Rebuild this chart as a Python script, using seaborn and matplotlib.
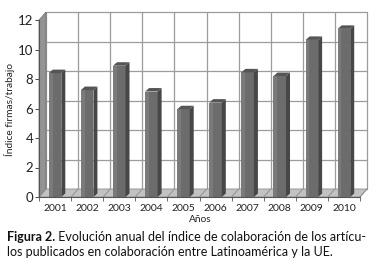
import numpy as np
import pandas as pd
import matplotlib
matplotlib.use("Agg")
import matplotlib.pyplot as plt
from matplotlib.patches import Polygon, Rectangle
import seaborn as sns

# data
years = ["2001", "2002", "2003", "2004", "2005", "2006", "2007", "2008", "2009", "2010"]
indice = [8.4, 7.25, 8.9, 7.15, 5.95, 6.4, 8.45, 8.2, 10.65, 11.4]
yticks = [0, 2, 4, 6, 8, 10, 12]

ylabel = "Índice firmas/trabajo"
xlabel = "Años"
cap_bold = "Figura 2."
cap_line1 = " Evolución anual del índice de colaboración de los artícu-"
cap_line2 = "los publicados en colaboración entre Latinoamérica y la UE."

df = pd.DataFrame({"anio": years, "indice": indice})

sns.set_style("white")
plt.rcParams["font.family"] = ["Lato", "DejaVu Sans"]

W, H = 379, 267
fig = plt.figure(figsize=(W / 100, H / 100), dpi=100)
ax = fig.add_axes([39 / W, 70 / H, 321 / W, 177 / H])
ax.set_facecolor("none")

n = len(years)
x0, x1 = -0.5, n - 0.5
ymax = 12
# depth of the fake 3d box, in data units
dx, dy = 7 / 32.1, 8 / 14.75
# depth of each bar
sx, sy = 4 / 32.1, 3.5 / 14.75
grid_c = "#9c9c9c"

# back wall
ax.add_patch(Rectangle((x0 + dx, dy), x1 - x0, ymax, facecolor="white",
                       edgecolor="none", zorder=0, clip_on=False))
for v in yticks:
    ax.plot([x0 + dx, x1 + dx], [v + dy, v + dy], color=grid_c, lw=0.9,
            zorder=0.5, clip_on=False)
for b in np.arange(x0, x1 + 0.01, 1.0):
    ax.plot([b + dx, b + dx], [dy, ymax + dy], color=grid_c, lw=0.9,
            zorder=0.5, clip_on=False)

# left wall
ax.add_patch(Polygon([(x0, 0), (x0 + dx, dy), (x0 + dx, ymax + dy), (x0, ymax)],
                     closed=True, facecolor="#939393", edgecolor="#6a6a6a",
                     lw=0.5, zorder=1, clip_on=False))
# floor
ax.add_patch(Polygon([(x0, 0), (x1, 0), (x1 + dx, dy), (x0 + dx, dy)],
                     closed=True, facecolor="#c2c2c2", edgecolor="#8a8a8a",
                     lw=0.5, zorder=1, clip_on=False))
for b in np.arange(x0, x1 + 0.01, 1.0):
    ax.plot([b, b + dx], [0, dy], color="#8a8a8a", lw=0.6, zorder=1.1,
            clip_on=False)

sns.barplot(data=df, x="anio", y="indice", color="#6c6c6c", saturation=1,
            width=0.39, ax=ax, zorder=2, edgecolor="none")

for p in ax.patches:
    if not isinstance(p, Rectangle) or p.get_zorder() != 2:
        continue
    xl = p.get_x()
    w = p.get_width()
    h = p.get_height()
    xr = xl + w
    ax.add_patch(Polygon([(xr, 0), (xr + sx, sy), (xr + sx, h + sy), (xr, h)],
                         closed=True, facecolor="#474747", edgecolor="none",
                         zorder=2.1, clip_on=False))
    ax.add_patch(Polygon([(xl, h), (xr, h), (xr + sx, h + sy), (xl + sx, h + sy)],
                         closed=True, facecolor="#555555", edgecolor="none",
                         zorder=2.1, clip_on=False))
    # light strip on the left of the front face
    ax.add_patch(Rectangle((xl, 0), w * 0.3, h, facecolor="#7a7a7a",
                           edgecolor="none", zorder=2.05, clip_on=False))

ax.set_xlim(x0, x1)
ax.set_ylim(0, ymax)
ax.set_yticks(yticks)
ax.set_xticks(range(n))
ax.set_xticklabels(years)
ax.set_xticks(np.arange(x0, x1 + 0.01, 1.0), minor=True)
ax.set_xlabel("")
ax.set_ylabel("")
ax.tick_params(axis="y", left=True, length=3, width=0.7, color="#444444",
               labelsize=9.5, pad=1, labelcolor="#222222")
ax.tick_params(axis="x", which="major", bottom=True, length=0, labelsize=7.5,
               pad=5, labelcolor="#222222")
ax.tick_params(axis="x", which="minor", bottom=True, length=3, width=0.6,
               color="#555555")
for s in ["top", "right"]:
    ax.spines[s].set_visible(False)
for s in ["left", "bottom"]:
    ax.spines[s].set_color("#555555")
    ax.spines[s].set_linewidth(0.8)
    ax.spines[s].set_zorder(3)

fig.text(10 / W, 1 - 110 / H, ylabel, rotation=90, ha="center", va="center",
         fontsize=7.3, color="#222222")
fig.text(200 / W, 1 - 219 / H, xlabel, ha="center", va="center",
         fontsize=7.3, color="#222222")

t = fig.text(7 / W, 1 - 241 / H, cap_bold, ha="left", va="baseline",
             fontsize=9, fontweight="bold", color="#111111")
fig.canvas.draw()
bb = t.get_window_extent(fig.canvas.get_renderer())
fig.text(bb.x1 / W, 1 - 241 / H, cap_line1, ha="left", va="baseline",
         fontsize=9, color="#111111")
fig.text(7 / W, 1 - 256 / H, cap_line2, ha="left", va="baseline",
         fontsize=9, color="#111111")

fig.savefig("out.png", dpi=100)
